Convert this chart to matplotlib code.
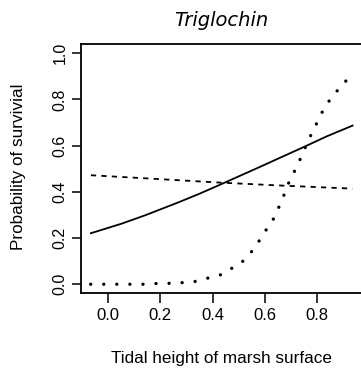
import matplotlib
matplotlib.use('Agg')
from matplotlib import pyplot as plt

# values
solid_x = [-0.067, 0.05, 0.14, 0.27, 0.35, 0.415, 0.57, 0.66, 0.75, 0.84, 0.938]
solid_y = [0.221, 0.262, 0.298, 0.355, 0.392, 0.424, 0.502, 0.548, 0.594, 0.641, 0.687]

dash_x = [-0.067, 0.20, 0.415, 0.65, 0.938]
dash_y = [0.472, 0.455, 0.441, 0.428, 0.414]

dot_x = [-0.068, -0.017, 0.032, 0.083, 0.134, 0.183, 0.234, 0.284, 0.333, 0.380,
         0.429, 0.474, 0.515, 0.548, 0.577, 0.604, 0.632, 0.653, 0.672, 0.693,
         0.713, 0.734, 0.754, 0.775, 0.796, 0.818, 0.844, 0.874, 0.906, 0.938]
dot_y = [0.0, 0.0, 0.0, 0.0, 0.0, 0.003, 0.004, 0.007, 0.012, 0.026,
         0.040, 0.069, 0.098, 0.138, 0.184, 0.232, 0.278, 0.329, 0.379, 0.440,
         0.485, 0.534, 0.586, 0.639, 0.687, 0.739, 0.788, 0.831, 0.874, 0.905]

x_ticks = [0.0, 0.2, 0.4, 0.6, 0.8]
y_ticks = [0.0, 0.2, 0.4, 0.6, 0.8, 1.0]

plt.rcParams['font.family'] = ['Liberation Sans', 'DejaVu Sans']

fig = plt.figure(figsize=(3.61, 3.70), dpi=100)
ax = fig.add_axes([0.2230, 0.2068, 0.7825, 0.6741])

ax.plot(solid_x, solid_y, color='black', lw=1.3)
ax.plot(dash_x, dash_y, color='black', lw=1.3, linestyle=(0, (2.9, 2.9)))
ax.plot(dot_x, dot_y, color='black', lw=2.4, linestyle=(0, (0.02, 3.9)),
        dash_capstyle='round')

ax.set_xlim(-0.107, 0.978)
ax.set_ylim(-0.04, 1.04)
ax.set_xticks(x_ticks)
ax.set_xticklabels(['%.1f' % v for v in x_ticks])
ax.set_yticks(y_ticks)
ax.set_yticklabels(['%.1f' % v for v in y_ticks])

for s in ax.spines.values():
    s.set_linewidth(1.3)
ax.tick_params(axis='x', length=7, width=1.1, pad=3.5, labelsize=12)
ax.tick_params(axis='y', length=6.5, width=1.1, pad=3, labelsize=11.5, labelrotation=90)
for lbl in ax.get_yticklabels():
    lbl.set_va('center')

fig.text(221.5 / 361, 1 - 25.7 / 370, 'Triglochin', ha='center', va='baseline',
         fontsize=14, style='italic', family='DejaVu Sans')
fig.text(221.5 / 361, 7.5 / 370, 'Tidal height of marsh surface', ha='center',
         va='baseline', fontsize=12.3)
fig.text(18.5 / 361, 1 - 167 / 370, 'Probability of survivial', ha='center',
         va='center', rotation=90, fontsize=12.3)

plt.savefig('out.png', dpi=100)
